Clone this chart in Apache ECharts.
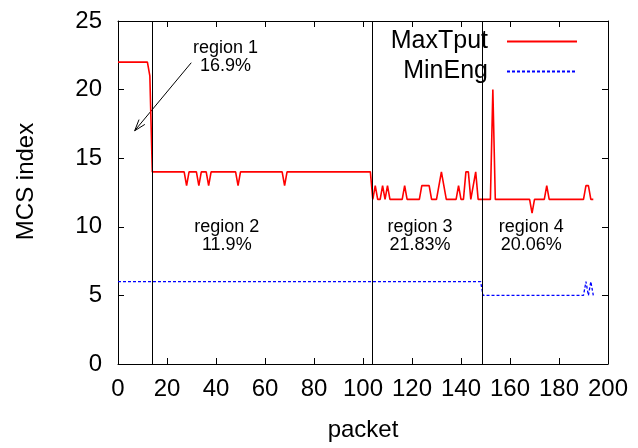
<!DOCTYPE html>
<html>
<head>
<meta charset="utf-8">
<title>MCS index per packet</title>
<script src="https://cdn.jsdelivr.net/npm/echarts@6/dist/echarts.min.js"></script>
<style>
  html, body { margin: 0; padding: 0; background: #ffffff; }
  #chart { width: 638px; height: 448px; }
</style>
</head>
<body>
<div id="chart"></div>
<script>
// MCS index chosen for each packet (packet number = position in the list)
const maxTput = [
  22, 22, 22, 22, 22, 22, 22, 22, 22, 22,
  22, 22, 22, 21, 14, 14, 14, 14, 14, 14,
  14, 14, 14, 14, 14, 14, 14, 14, 13, 14,
  14, 14, 14, 13, 14, 14, 14, 13, 14, 14,
  14, 14, 14, 14, 14, 14, 14, 14, 14, 13,
  14, 14, 14, 14, 14, 14, 14, 14, 14, 14,
  14, 14, 14, 14, 14, 14, 14, 14, 13, 14,
  14, 14, 14, 14, 14, 14, 14, 14, 14, 14,
  14, 14, 14, 14, 14, 14, 14, 14, 14, 14,
  14, 14, 14, 14, 14, 14, 14, 14, 14, 14,
  14, 14, 14, 14, 12, 13, 12, 12, 13, 12,
  13, 12, 12, 12, 12, 12, 12, 13, 12, 12,
  12, 12, 12, 12, 13, 13, 13, 13, 12, 12,
  12, 13, 14, 13, 12, 12, 12, 12, 12, 13,
  12, 12, 14, 14, 12, 13, 14, 12, 12, 12,
  12, 12, 12, 20, 12, 12, 12, 12, 12, 12,
  12, 12, 12, 12, 12, 12, 12, 12, 12, 11,
  12, 12, 12, 12, 12, 13, 12, 12, 12, 12,
  12, 12, 12, 12, 12, 12, 12, 12, 12, 12,
  12, 13, 13, 12, 12
];

const minEng = [
  6, 6, 6, 6, 6, 6, 6, 6, 6, 6,
  6, 6, 6, 6, 6, 6, 6, 6, 6, 6,
  6, 6, 6, 6, 6, 6, 6, 6, 6, 6,
  6, 6, 6, 6, 6, 6, 6, 6, 6, 6,
  6, 6, 6, 6, 6, 6, 6, 6, 6, 6,
  6, 6, 6, 6, 6, 6, 6, 6, 6, 6,
  6, 6, 6, 6, 6, 6, 6, 6, 6, 6,
  6, 6, 6, 6, 6, 6, 6, 6, 6, 6,
  6, 6, 6, 6, 6, 6, 6, 6, 6, 6,
  6, 6, 6, 6, 6, 6, 6, 6, 6, 6,
  6, 6, 6, 6, 6, 6, 6, 6, 6, 6,
  6, 6, 6, 6, 6, 6, 6, 6, 6, 6,
  6, 6, 6, 6, 6, 6, 6, 6, 6, 6,
  6, 6, 6, 6, 6, 6, 6, 6, 6, 6,
  6, 6, 6, 6, 6, 6, 6, 6, 6, 5,
  5, 5, 5, 5, 5, 5, 5, 5, 5, 5,
  5, 5, 5, 5, 5, 5, 5, 5, 5, 5,
  5, 5, 5, 5, 5, 5, 5, 5, 5, 5,
  5, 5, 5, 5, 5, 5, 5, 5, 5, 5,
  5, 6, 5, 6, 5
];

// Region boundaries (packet number)
const regionBounds = [14, 103.8, 148.7];
const regionNames = ['region 1', 'region 2', 'region 3', 'region 4'];
const regionShares = ['16.9%', '11.9%', '21.83%', '20.06%'];

// Axis ticks
const xTicks = { min: 0, max: 200, step: 20 };
const yTicks = { min: 0, max: 25, step: 5 };

// Where each region caption sits, in data units [packet, MCS]
const captionAnchors = [[43.9, 22.34], [44.4, 9.33], [123.3, 9.33], [168.7, 9.33]];
// Pointer from the region 1 caption to the short first region
const pointerTail = [29.9, 21.96];
const pointerHead = [6.8, 17.0];

const FONT = "'Liberation Sans', Arial, Helvetica, sans-serif";

const chart = echarts.init(document.getElementById('chart'), null, { renderer: 'canvas' });

function xAxisDef(pos, withLabels) {
  return {
    type: 'value', position: pos,
    min: xTicks.min, max: xTicks.max, interval: xTicks.step,
    axisLine: { show: true, onZero: false, lineStyle: { color: '#000', width: 1 } },
    axisTick: { show: true, inside: true, length: 6, lineStyle: { color: '#000', width: 1 } },
    axisLabel: { show: withLabels, color: '#000', fontSize: 24, fontFamily: FONT, margin: 13 },
    splitLine: { show: false },
    name: withLabels ? 'packet' : '',
    nameLocation: 'middle', nameGap: 54,
    nameTextStyle: { color: '#000', fontSize: 24, fontFamily: FONT }
  };
}

function yAxisDef(pos, withLabels) {
  return {
    type: 'value', position: pos,
    min: yTicks.min, max: yTicks.max, interval: yTicks.step,
    axisLine: { show: true, onZero: false, lineStyle: { color: '#000', width: 1 } },
    axisTick: { show: true, inside: true, length: 6, lineStyle: { color: '#000', width: 1 } },
    axisLabel: { show: withLabels, color: '#000', fontSize: 24, fontFamily: FONT, margin: 16 },
    splitLine: { show: false },
    name: withLabels ? 'MCS index' : '',
    nameLocation: 'middle', nameGap: 80,
    nameTextStyle: { color: '#000', fontSize: 24, fontFamily: FONT, padding: [0, 0, 0, 22] }
  };
}

const option = {
  animation: false,
  backgroundColor: '#ffffff',
  grid: { left: 118, right: 30, top: 21, bottom: 84, containLabel: false },
  xAxis: [xAxisDef('bottom', true), xAxisDef('top', false)],
  yAxis: [yAxisDef('left', true), yAxisDef('right', false)],
  legend: {
    orient: 'vertical', right: 60, top: 29, align: 'right', padding: 0,
    itemWidth: 70, itemHeight: 14, itemGap: 5,
    // plain line samples, no point markers
    itemStyle: { opacity: 0 },
    textStyle: { color: '#000', fontSize: 25, fontFamily: FONT, lineHeight: 22, padding: [0, 14, 0, 0] },
    data: ['MaxTput', 'MinEng']
  },
  series: [
    {
      name: 'MaxTput', type: 'line', xAxisIndex: 0, yAxisIndex: 0,
      data: maxTput.map((v, i) => [i, v]),
      symbol: 'none', showSymbol: false,
      lineStyle: { color: '#ff0000', width: 1.6 },
      itemStyle: { color: '#ff0000' },
      z: 3,
      markLine: {
        silent: true, symbol: ['none', 'none'],
        label: { show: false },
        lineStyle: { color: '#000', width: 1, type: 'solid' },
        data: regionBounds.map(x => ({ xAxis: x }))
      }
    },
    {
      name: 'MinEng', type: 'line', xAxisIndex: 0, yAxisIndex: 0,
      data: minEng.map((v, i) => [i, v]),
      symbol: 'none', showSymbol: false,
      lineStyle: { color: '#0000ff', width: 1.3, type: [3, 2] },
      itemStyle: { color: '#0000ff' },
      z: 2
    }
  ]
};

chart.setOption(option);

// Captions and the pointer, placed through the axes
const toPx = p => chart.convertToPixel({ xAxisIndex: 0, yAxisIndex: 0 }, p);
const graphics = [];
captionAnchors.forEach((a, i) => {
  const [x, y] = toPx(a);
  graphics.push({
    type: 'text', x: x, y: y, silent: true,
    style: {
      text: regionNames[i] + '\n' + regionShares[i],
      fill: '#000', font: '18px ' + FONT, lineHeight: 18,
      align: 'center', verticalAlign: 'middle'
    }
  });
});
const [tx, ty] = toPx(pointerTail);
const [hx, hy] = toPx(pointerHead);
const ang = Math.atan2(hy - ty, hx - tx);
const barbLen = 12, spread = 0.32;
graphics.push({
  type: 'line', silent: true,
  shape: { x1: tx, y1: ty, x2: hx, y2: hy },
  style: { stroke: '#000', lineWidth: 1 }
});
graphics.push({
  type: 'polyline', silent: true,
  shape: { points: [
    [hx - barbLen * Math.cos(ang - spread), hy - barbLen * Math.sin(ang - spread)],
    [hx, hy],
    [hx - barbLen * Math.cos(ang + spread), hy - barbLen * Math.sin(ang + spread)]
  ] },
  style: { stroke: '#000', lineWidth: 1, fill: null }
});
chart.setOption({ graphic: graphics });
</script>
</body>
</html>
